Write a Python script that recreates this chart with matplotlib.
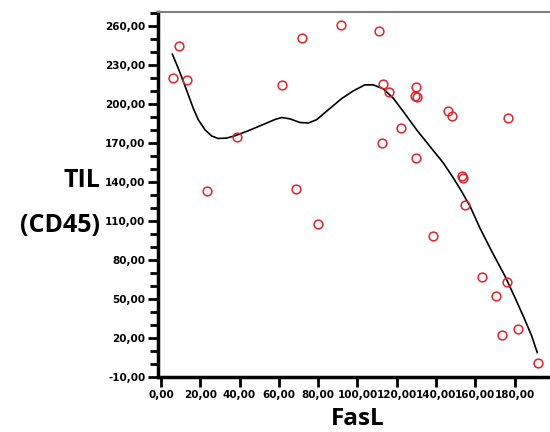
import numpy as np
import matplotlib
matplotlib.use('Agg')
import matplotlib.pyplot as plt
from matplotlib.ticker import MultipleLocator, FuncFormatter

# scatter points
fasl = [5.9, 9.3, 13.4, 23.3, 38.5, 61.4, 68.7, 71.9, 79.7, 91.4,
        110.9, 112.3, 113.1, 116.0, 122.1, 129.8, 129.3, 130.4, 129.8, 138.3,
        146.2, 148.1, 153.3, 153.8, 154.9, 163.4, 170.3, 173.7, 176.1, 176.8,
        181.5, 191.9]
til = [220.1, 244.4, 218.4, 132.7, 174.4, 214.3, 134.5, 250.3, 107.2, 260.3,
       256.2, 169.5, 215.5, 209.4, 181.3, 212.8, 205.6, 205.0, 158.0, 98.5,
       194.6, 190.8, 144.8, 143.2, 122.0, 67.0, 52.5, 22.6, 63.2, 189.2,
       27.2, 1.1]

# smoothed fit line
fit_x = [5.8, 8.8, 11.4, 13.9, 16.4, 19.0, 22.4, 25.8, 29.2, 33.4, 37.7,
         44.4, 52.9, 58.0, 61.4, 65.6, 70.7, 75.0, 79.2, 85.2, 92.0, 97.9,
         103.8, 108.0, 113.1, 118.2, 123.3, 130.1, 136.9, 143.7, 148.8, 153.0,
         157.3, 162.3, 168.3, 175.1, 180.2, 184.4, 188.7, 191.5]
fit_y = [238.1, 227.3, 217.1, 206.9, 196.7, 187.7, 180.0, 175.2, 173.3, 173.6,
         175.4, 179.2, 184.6, 187.9, 189.4, 188.4, 185.6, 185.2, 187.7, 195.4,
         204.0, 209.9, 214.5, 214.5, 211.5, 204.3, 194.1, 180.0, 167.2, 154.5,
         143.0, 132.7, 121.2, 104.6, 86.7, 67.5, 50.9, 36.8, 21.5, 8.8]

fig = plt.figure(figsize=(5.5, 4.32), dpi=100)
ax = fig.add_axes([158 / 550, 1 - 377 / 432, 392 / 550, 365 / 432])

ax.plot(fit_x, fit_y, color='black', lw=1.2, zorder=2,
        solid_joinstyle='round')
ax.plot(fasl, til, 'o', mfc='none', mec='#e8202a', mew=1.1, ms=6.3, zorder=3)

ax.set_xlim(-1.5, 198)
ax.set_ylim(-10, 270.5)
ax.set_xticks(np.arange(0, 181, 20))
ax.set_yticks(np.arange(-10, 261, 30))
ax.yaxis.set_minor_locator(MultipleLocator(10))

fmt = FuncFormatter(lambda v, p: f'{v:.2f}'.replace('.', ','))
ax.xaxis.set_major_formatter(fmt)
ax.yaxis.set_major_formatter(fmt)

ax.tick_params(axis='both', which='major', direction='out', length=7, width=2,
               labelsize=7.5, pad=2)
ax.tick_params(axis='y', which='minor', direction='out', length=6, width=2)
for lab in ax.get_xticklabels() + ax.get_yticklabels():
    lab.set_fontweight('bold')

ax.spines['left'].set_linewidth(2.5)
ax.spines['bottom'].set_linewidth(2.5)
ax.spines['top'].set_color('#808080')
ax.spines['top'].set_linewidth(1.5)
ax.spines['right'].set_visible(False)

fig.text(100 / 550, 1 - 181 / 432, 'TIL', ha='right', va='center',
         fontsize=18, fontweight='bold', family='Open Sans')
fig.text(100 / 550, 1 - 226 / 432, '(CD45)', ha='right', va='center',
         fontsize=18, fontweight='bold', family='Open Sans')
fig.text(358 / 550, 1 - 419 / 432, 'FasL', ha='center', va='center',
         fontsize=17.5, fontweight='bold', family='Open Sans')

fig.savefig('out.png', dpi=100)
